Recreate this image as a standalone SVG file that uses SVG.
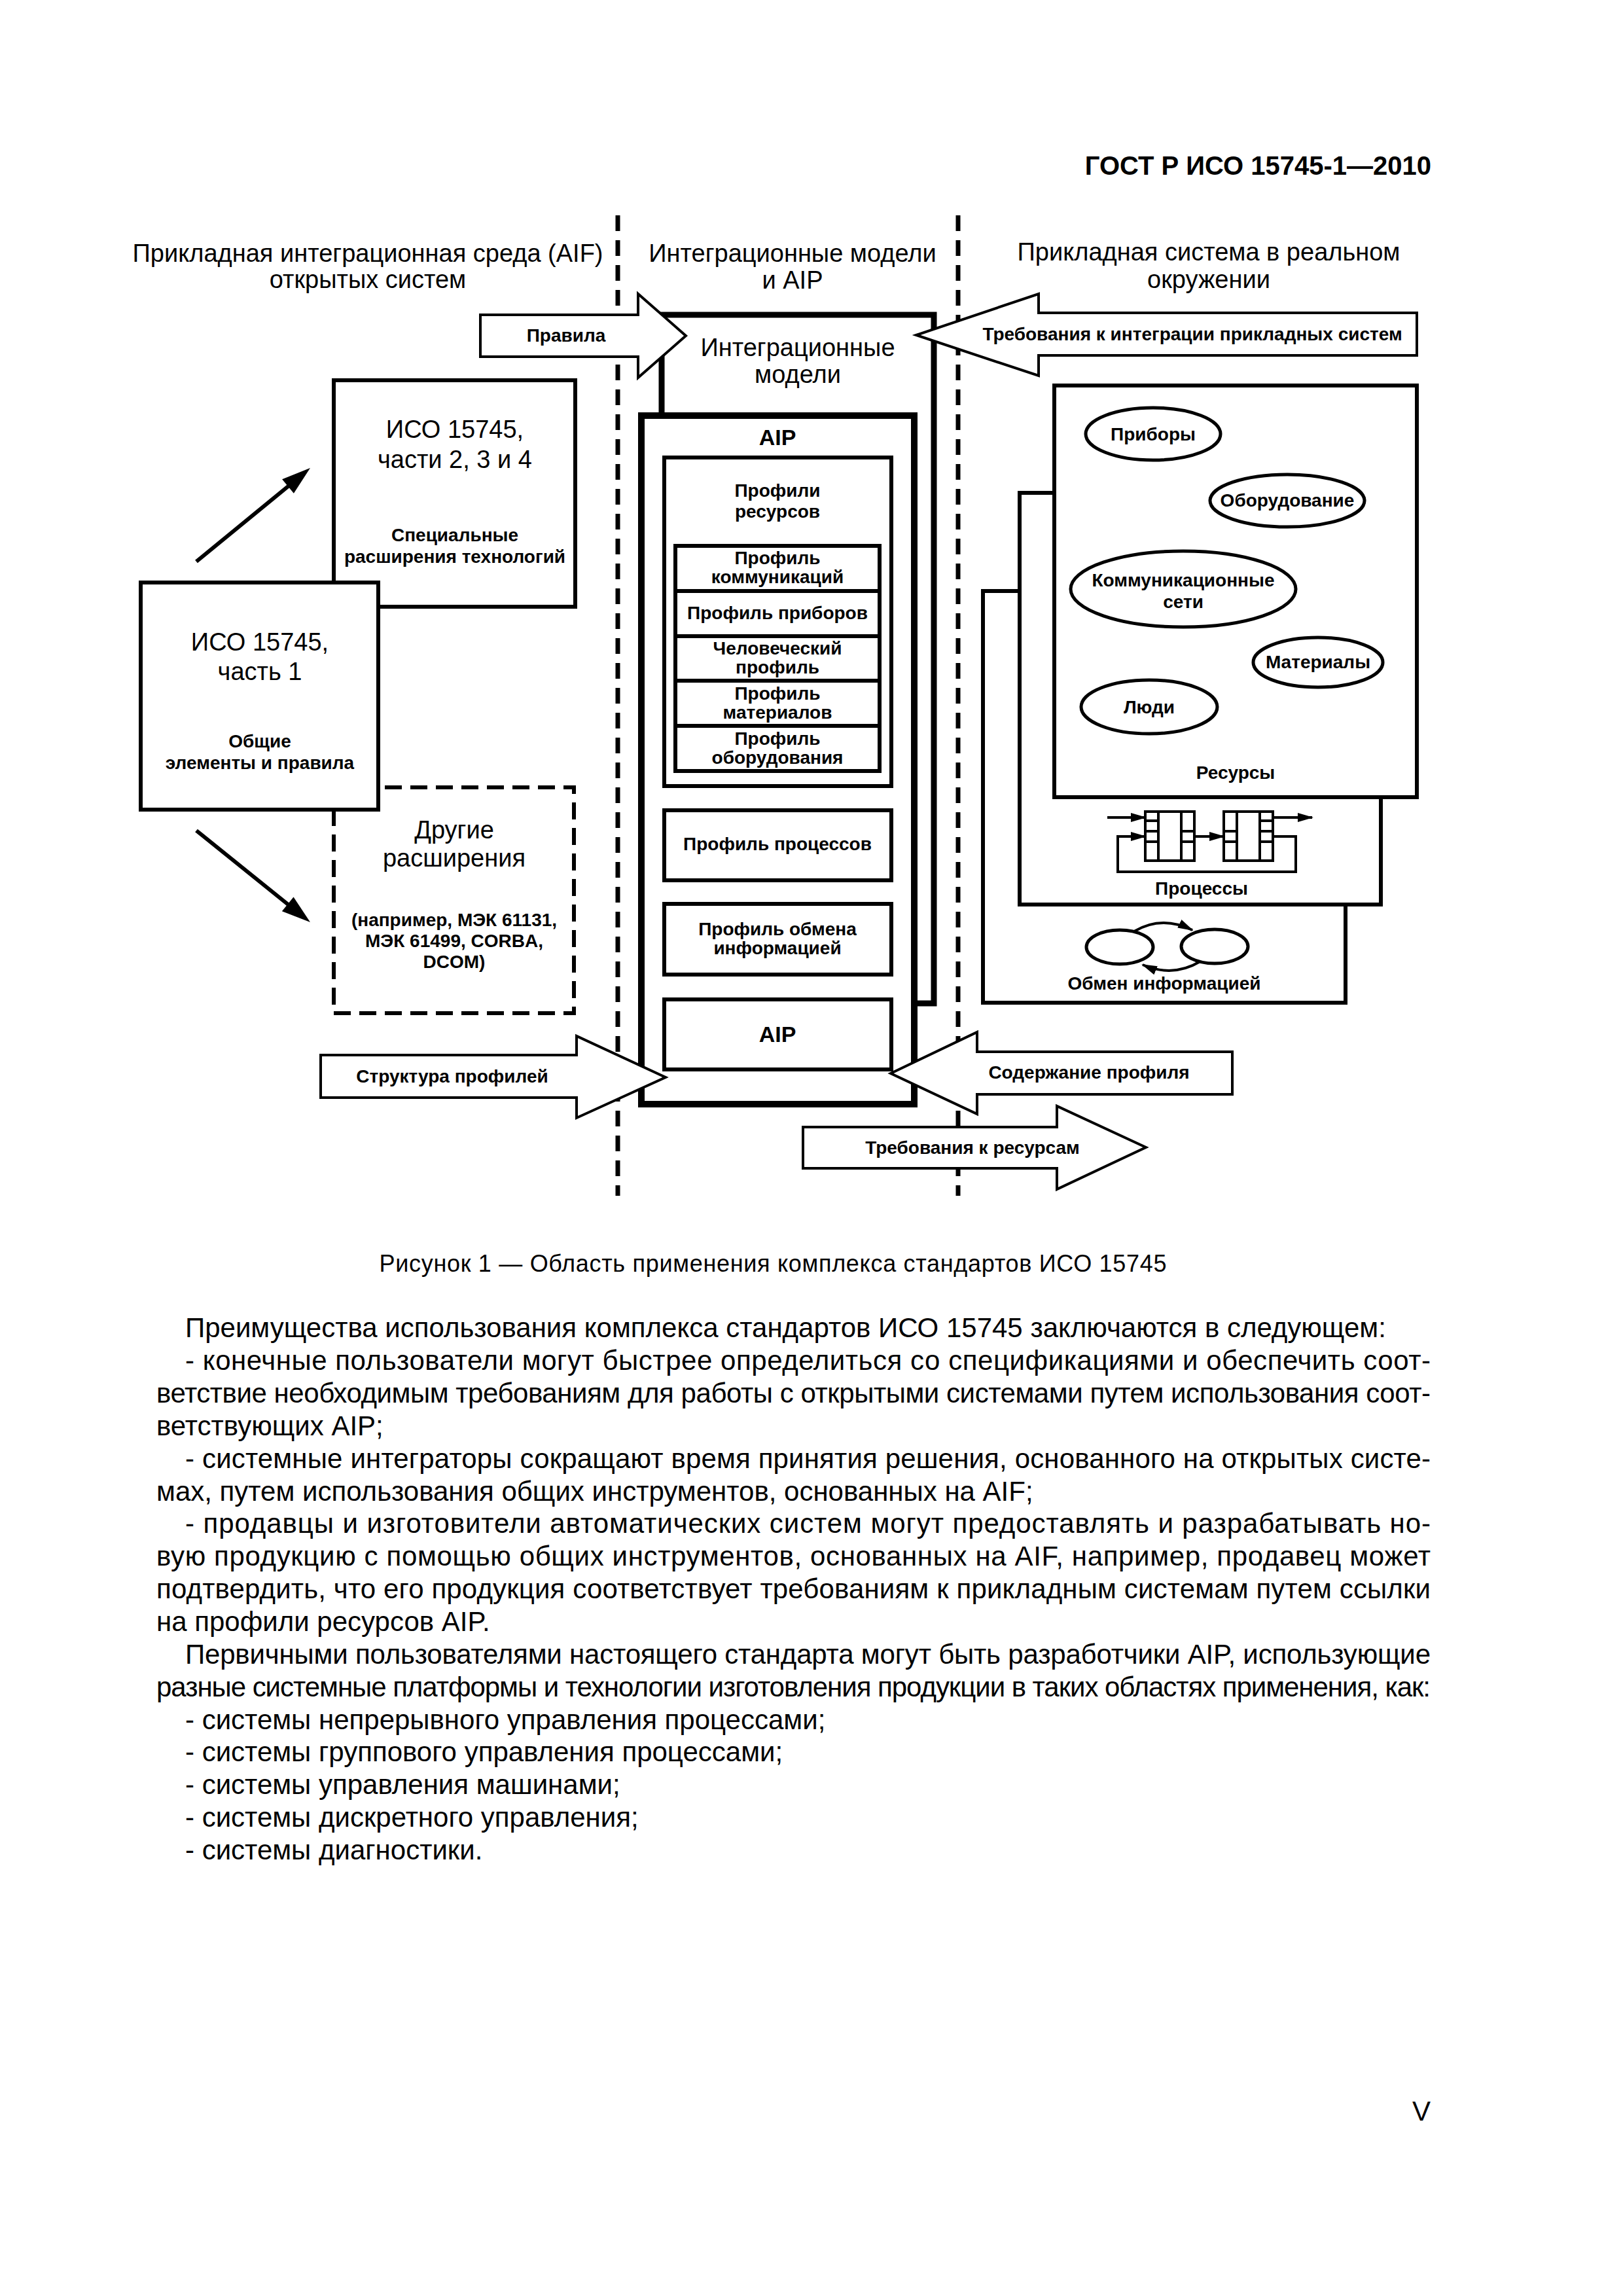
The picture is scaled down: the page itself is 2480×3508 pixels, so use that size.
<svg xmlns="http://www.w3.org/2000/svg" width="2480" height="3508" viewBox="0 0 2480 3508">
<defs>
<style>
text{font-family:"Liberation Sans",Arial,sans-serif;fill:#000}
.ttl{font-size:38px;text-anchor:middle}
.big{font-size:38px;text-anchor:middle}
.lb{font-size:28px;font-weight:bold;text-anchor:middle}
.aip{font-size:34px;font-weight:bold;text-anchor:middle}
.body{font-size:42px}
.box{fill:#fff;stroke:#000;stroke-width:6}
.thk{fill:#fff;stroke:#000;stroke-width:10}
.dsh{fill:#fff;stroke:#000;stroke-width:6;stroke-dasharray:26 13}
.fat{fill:#fff;stroke:#000;stroke-width:4;stroke-linejoin:miter}
.div{fill:none;stroke:#000;stroke-width:7;stroke-dasharray:24 14}
.ell{fill:#fff;stroke:#000;stroke-width:5}
.ln{fill:none;stroke:#000;stroke-width:4}
.dg{fill:none;stroke:#000;stroke-width:6}
</style>
<marker id="ah" markerUnits="userSpaceOnUse" markerWidth="24" markerHeight="14" refX="22" refY="7" orient="auto"><path d="M0,0 L24,7 L0,14 z" fill="#000"/></marker>
</defs>
<rect width="2480" height="3508" fill="#fff"/>

<text x="2187" y="267" style="font-size:40px;font-weight:bold;text-anchor:end">ГОСТ Р ИСО 15745-1—2010</text>

<g id="dividers">
<line class="div" x1="944" y1="329" x2="944" y2="1827"/>
<line class="div" x1="1464" y1="329" x2="1464" y2="1827"/>
</g>

<g id="titles">
<text class="ttl" x="562" y="400">Прикладная интеграционная среда (AIF)</text>
<text class="ttl" x="562" y="440">открытых систем</text>
<text class="ttl" x="1211" y="400">Интеграционные модели</text>
<text class="ttl" x="1211" y="441">и AIP</text>
<text class="ttl" x="1847" y="398">Прикладная система в реальном</text>
<text class="ttl" x="1847" y="440">окружении</text>
</g>

<g id="iso-part2">
<rect class="box" x="510" y="581" width="369" height="346"/>
<text class="big" x="695" y="669">ИСО 15745,</text>
<text class="big" x="695" y="715">части 2, 3 и 4</text>
<text class="lb" x="695" y="827">Специальные</text>
<text class="lb" x="695" y="860">расширения технологий</text>
</g>

<g id="other-ext">
<rect class="dsh" x="510" y="1203" width="367" height="345"/>
<text class="big" x="694" y="1281">Другие</text>
<text class="big" x="694" y="1324">расширения</text>
<text class="lb" x="694" y="1415">(например, МЭК 61131,</text>
<text class="lb" x="694" y="1447">МЭК 61499, CORBA,</text>
<text class="lb" x="694" y="1479">DCOM)</text>
</g>

<g id="iso-part1">
<rect class="box" x="215" y="890" width="363" height="347"/>
<text class="big" x="397" y="994">ИСО 15745,</text>
<text class="big" x="397" y="1039">часть 1</text>
<text class="lb" x="397" y="1142">Общие</text>
<text class="lb" x="397" y="1175">элементы и правила</text>
</g>

<g id="integration-models">
<rect class="thk" x="1011" y="481" width="416" height="1052" style="stroke-width:9"/>
<text class="big" x="1219" y="544">Интеграционные</text>
<text class="big" x="1219" y="585">модели</text>
</g>

<g id="aip">
<rect class="thk" x="980" y="635" width="417" height="1052"/>
<text class="aip" x="1188" y="680">AIP</text>
</g>

<g id="resource-profiles">
<rect class="box" x="1015" y="699" width="347" height="502"/>
<text class="lb" x="1188" y="759">Профили</text>
<text class="lb" x="1188" y="791">ресурсов</text>
<rect class="box" x="1032" y="834" width="312" height="344"/>
<line class="box" x1="1032" y1="903" x2="1344" y2="903"/>
<line class="box" x1="1032" y1="972" x2="1344" y2="972"/>
<line class="box" x1="1032" y1="1040" x2="1344" y2="1040"/>
<line class="box" x1="1032" y1="1109" x2="1344" y2="1109"/>
<text class="lb" x="1188" y="862">Профиль</text>
<text class="lb" x="1188" y="891">коммуникаций</text>
<text class="lb" x="1188" y="946">Профиль приборов</text>
<text class="lb" x="1188" y="1000">Человеческий</text>
<text class="lb" x="1188" y="1029">профиль</text>
<text class="lb" x="1188" y="1069">Профиль</text>
<text class="lb" x="1188" y="1098">материалов</text>
<text class="lb" x="1188" y="1138">Профиль</text>
<text class="lb" x="1188" y="1167">оборудования</text>
</g>

<g id="process-profile">
<rect class="box" x="1015" y="1238" width="347" height="107"/>
<text class="lb" x="1188" y="1299">Профиль процессов</text>
</g>

<g id="info-profile">
<rect class="box" x="1015" y="1381" width="347" height="108"/>
<text class="lb" x="1188" y="1429">Профиль обмена</text>
<text class="lb" x="1188" y="1458">информацией</text>
</g>

<g id="aip-inner">
<rect class="box" x="1015" y="1527" width="347" height="107"/>
<text class="aip" x="1188" y="1592">AIP</text>
</g>

<g id="info-exchange">
<rect class="box" x="1502" y="903" width="554" height="629"/>
<ellipse class="ell" cx="1711" cy="1447" rx="51" ry="26"/>
<ellipse class="ell" cx="1856" cy="1446" rx="51" ry="26"/>
<path class="ln" d="M1733,1423 Q1775,1398 1822,1421" marker-end="url(#ah)"/>
<path class="ln" d="M1834,1469 Q1792,1494 1746,1474" marker-end="url(#ah)"/>
<text class="lb" x="1779" y="1512">Обмен информацией</text>
</g>

<g id="processes">
<rect class="box" x="1558" y="753" width="552" height="629"/>
<rect class="ln" x="1750" y="1240" width="75" height="75"/>
<line class="ln" x1="1770" y1="1240" x2="1770" y2="1315"/>
<line class="ln" x1="1805" y1="1240" x2="1805" y2="1315"/>
<line class="ln" x1="1750" y1="1254" x2="1770" y2="1254"/>
<line class="ln" x1="1750" y1="1270" x2="1770" y2="1270"/>
<line class="ln" x1="1750" y1="1286" x2="1770" y2="1286"/>
<line class="ln" x1="1805" y1="1270" x2="1825" y2="1270"/>
<line class="ln" x1="1805" y1="1286" x2="1825" y2="1286"/>
<rect class="ln" x="1870" y="1240" width="75" height="75"/>
<line class="ln" x1="1890" y1="1240" x2="1890" y2="1315"/>
<line class="ln" x1="1925" y1="1240" x2="1925" y2="1315"/>
<line class="ln" x1="1870" y1="1270" x2="1890" y2="1270"/>
<line class="ln" x1="1870" y1="1286" x2="1890" y2="1286"/>
<line class="ln" x1="1925" y1="1254" x2="1945" y2="1254"/>
<line class="ln" x1="1925" y1="1270" x2="1945" y2="1270"/>
<line class="ln" x1="1925" y1="1286" x2="1945" y2="1286"/>
<path class="ln" d="M1692,1249 H1750" marker-end="url(#ah)"/>
<path class="ln" d="M1825,1278 H1870" marker-end="url(#ah)"/>
<path class="ln" d="M1945,1249 H2005" marker-end="url(#ah)"/>
<path class="ln" d="M1945,1278 H1980 V1332 H1708 V1278 H1750" marker-end="url(#ah)"/>
<text class="lb" x="1836" y="1367">Процессы</text>
</g>

<g id="resources">
<rect class="box" x="1611" y="589" width="554" height="629"/>
<ellipse class="ell" cx="1762" cy="663" rx="103" ry="40"/>
<text class="lb" x="1762" y="673">Приборы</text>
<ellipse class="ell" cx="1967" cy="765" rx="118" ry="40"/>
<text class="lb" x="1967" y="774">Оборудование</text>
<ellipse class="ell" cx="1808" cy="900" rx="172" ry="58"/>
<text class="lb" x="1808" y="896">Коммуникационные</text>
<text class="lb" x="1808" y="929">сети</text>
<ellipse class="ell" cx="2014" cy="1012" rx="99" ry="38"/>
<text class="lb" x="2014" y="1021">Материалы</text>
<ellipse class="ell" cx="1756" cy="1080" rx="104" ry="41"/>
<text class="lb" x="1756" y="1090">Люди</text>
<text class="lb" x="1888" y="1190">Ресурсы</text>
</g>

<g id="arrow-rules">
<polygon class="fat" points="734,481 975,481 975,449 1048,513 975,577 975,545 734,545"/>
<text class="lb" x="865" y="522">Правила</text>
</g>
<g id="arrow-integration-req">
<polygon class="fat" points="1400,512 1587,449 1587,478 2165,478 2165,543 1587,543 1587,574"/>
<text class="lb" x="1822" y="520">Требования к интеграции прикладных систем</text>
</g>
<g id="arrow-profile-structure">
<polygon class="fat" points="490,1612 881,1612 881,1583 1017,1646 881,1708 881,1677 490,1677"/>
<text class="lb" x="691" y="1654">Структура профилей</text>
</g>
<g id="arrow-profile-content">
<polygon class="fat" points="1361,1640 1493,1577 1493,1607 1883,1607 1883,1672 1493,1672 1493,1702"/>
<text class="lb" x="1664" y="1648">Содержание профиля</text>
</g>
<g id="arrow-resource-req">
<polygon class="fat" points="1227,1722 1615,1722 1615,1690 1751,1753 1615,1817 1615,1785 1227,1785"/>
<text class="lb" x="1486" y="1763">Требования к ресурсам</text>
</g>

<g id="connectors">
<line class="dg" x1="300" y1="858" x2="444" y2="740"/>
<polygon points="474,715 448.9,753.8 431.1,732.2" fill="#000"/>
<line class="dg" x1="300" y1="1269" x2="444" y2="1385"/>
<polygon points="474,1409 430.9,1392.3 448.5,1370.5" fill="#000"/>
</g>

<g id="page-text">
<text x="1181" y="1943" style="font-size:36px;text-anchor:middle" textLength="1203" lengthAdjust="spacing">Рисунок 1 — Область применения комплекса стандартов ИСО 15745</text>
<text class="body" x="283" y="2043">Преимущества использования комплекса стандартов ИСО 15745 заключаются в следующем:</text>
<text class="body" x="283" y="2093" textLength="1903" lengthAdjust="spacing">- конечные пользователи могут быстрее определиться со спецификациями и обеспечить соот-</text>
<text class="body" x="239" y="2143" textLength="1947" lengthAdjust="spacing">ветствие необходимым требованиям для работы с открытыми системами путем использования соот-</text>
<text class="body" x="239" y="2193">ветствующих AIP;</text>
<text class="body" x="283" y="2243" textLength="1903" lengthAdjust="spacing">- системные интеграторы сокращают время принятия решения, основанного на открытых систе-</text>
<text class="body" x="239" y="2293">мах, путем использования общих инструментов, основанных на AIF;</text>
<text class="body" x="283" y="2342" textLength="1903" lengthAdjust="spacing">- продавцы и изготовители автоматических систем могут предоставлять и разрабатывать но-</text>
<text class="body" x="239" y="2392" textLength="1947" lengthAdjust="spacing">вую продукцию с помощью общих инструментов, основанных на AIF, например, продавец может</text>
<text class="body" x="239" y="2442" textLength="1947" lengthAdjust="spacing">подтвердить, что его продукция соответствует требованиям к прикладным системам путем ссылки</text>
<text class="body" x="239" y="2492">на профили ресурсов AIP.</text>
<text class="body" x="283" y="2542" textLength="1903" lengthAdjust="spacing">Первичными пользователями настоящего стандарта могут быть разработчики AIP, использующие</text>
<text class="body" x="239" y="2592" textLength="1947" lengthAdjust="spacing">разные системные платформы и технологии изготовления продукции в таких областях применения, как:</text>
<text class="body" x="283" y="2642">- системы непрерывного управления процессами;</text>
<text class="body" x="283" y="2691">- системы группового управления процессами;</text>
<text class="body" x="283" y="2741">- системы управления машинами;</text>
<text class="body" x="283" y="2791">- системы дискретного управления;</text>
<text class="body" x="283" y="2841">- системы диагностики.</text>
<text class="body" x="2186" y="3240" style="text-anchor:end">V</text>
</g>
</svg>
